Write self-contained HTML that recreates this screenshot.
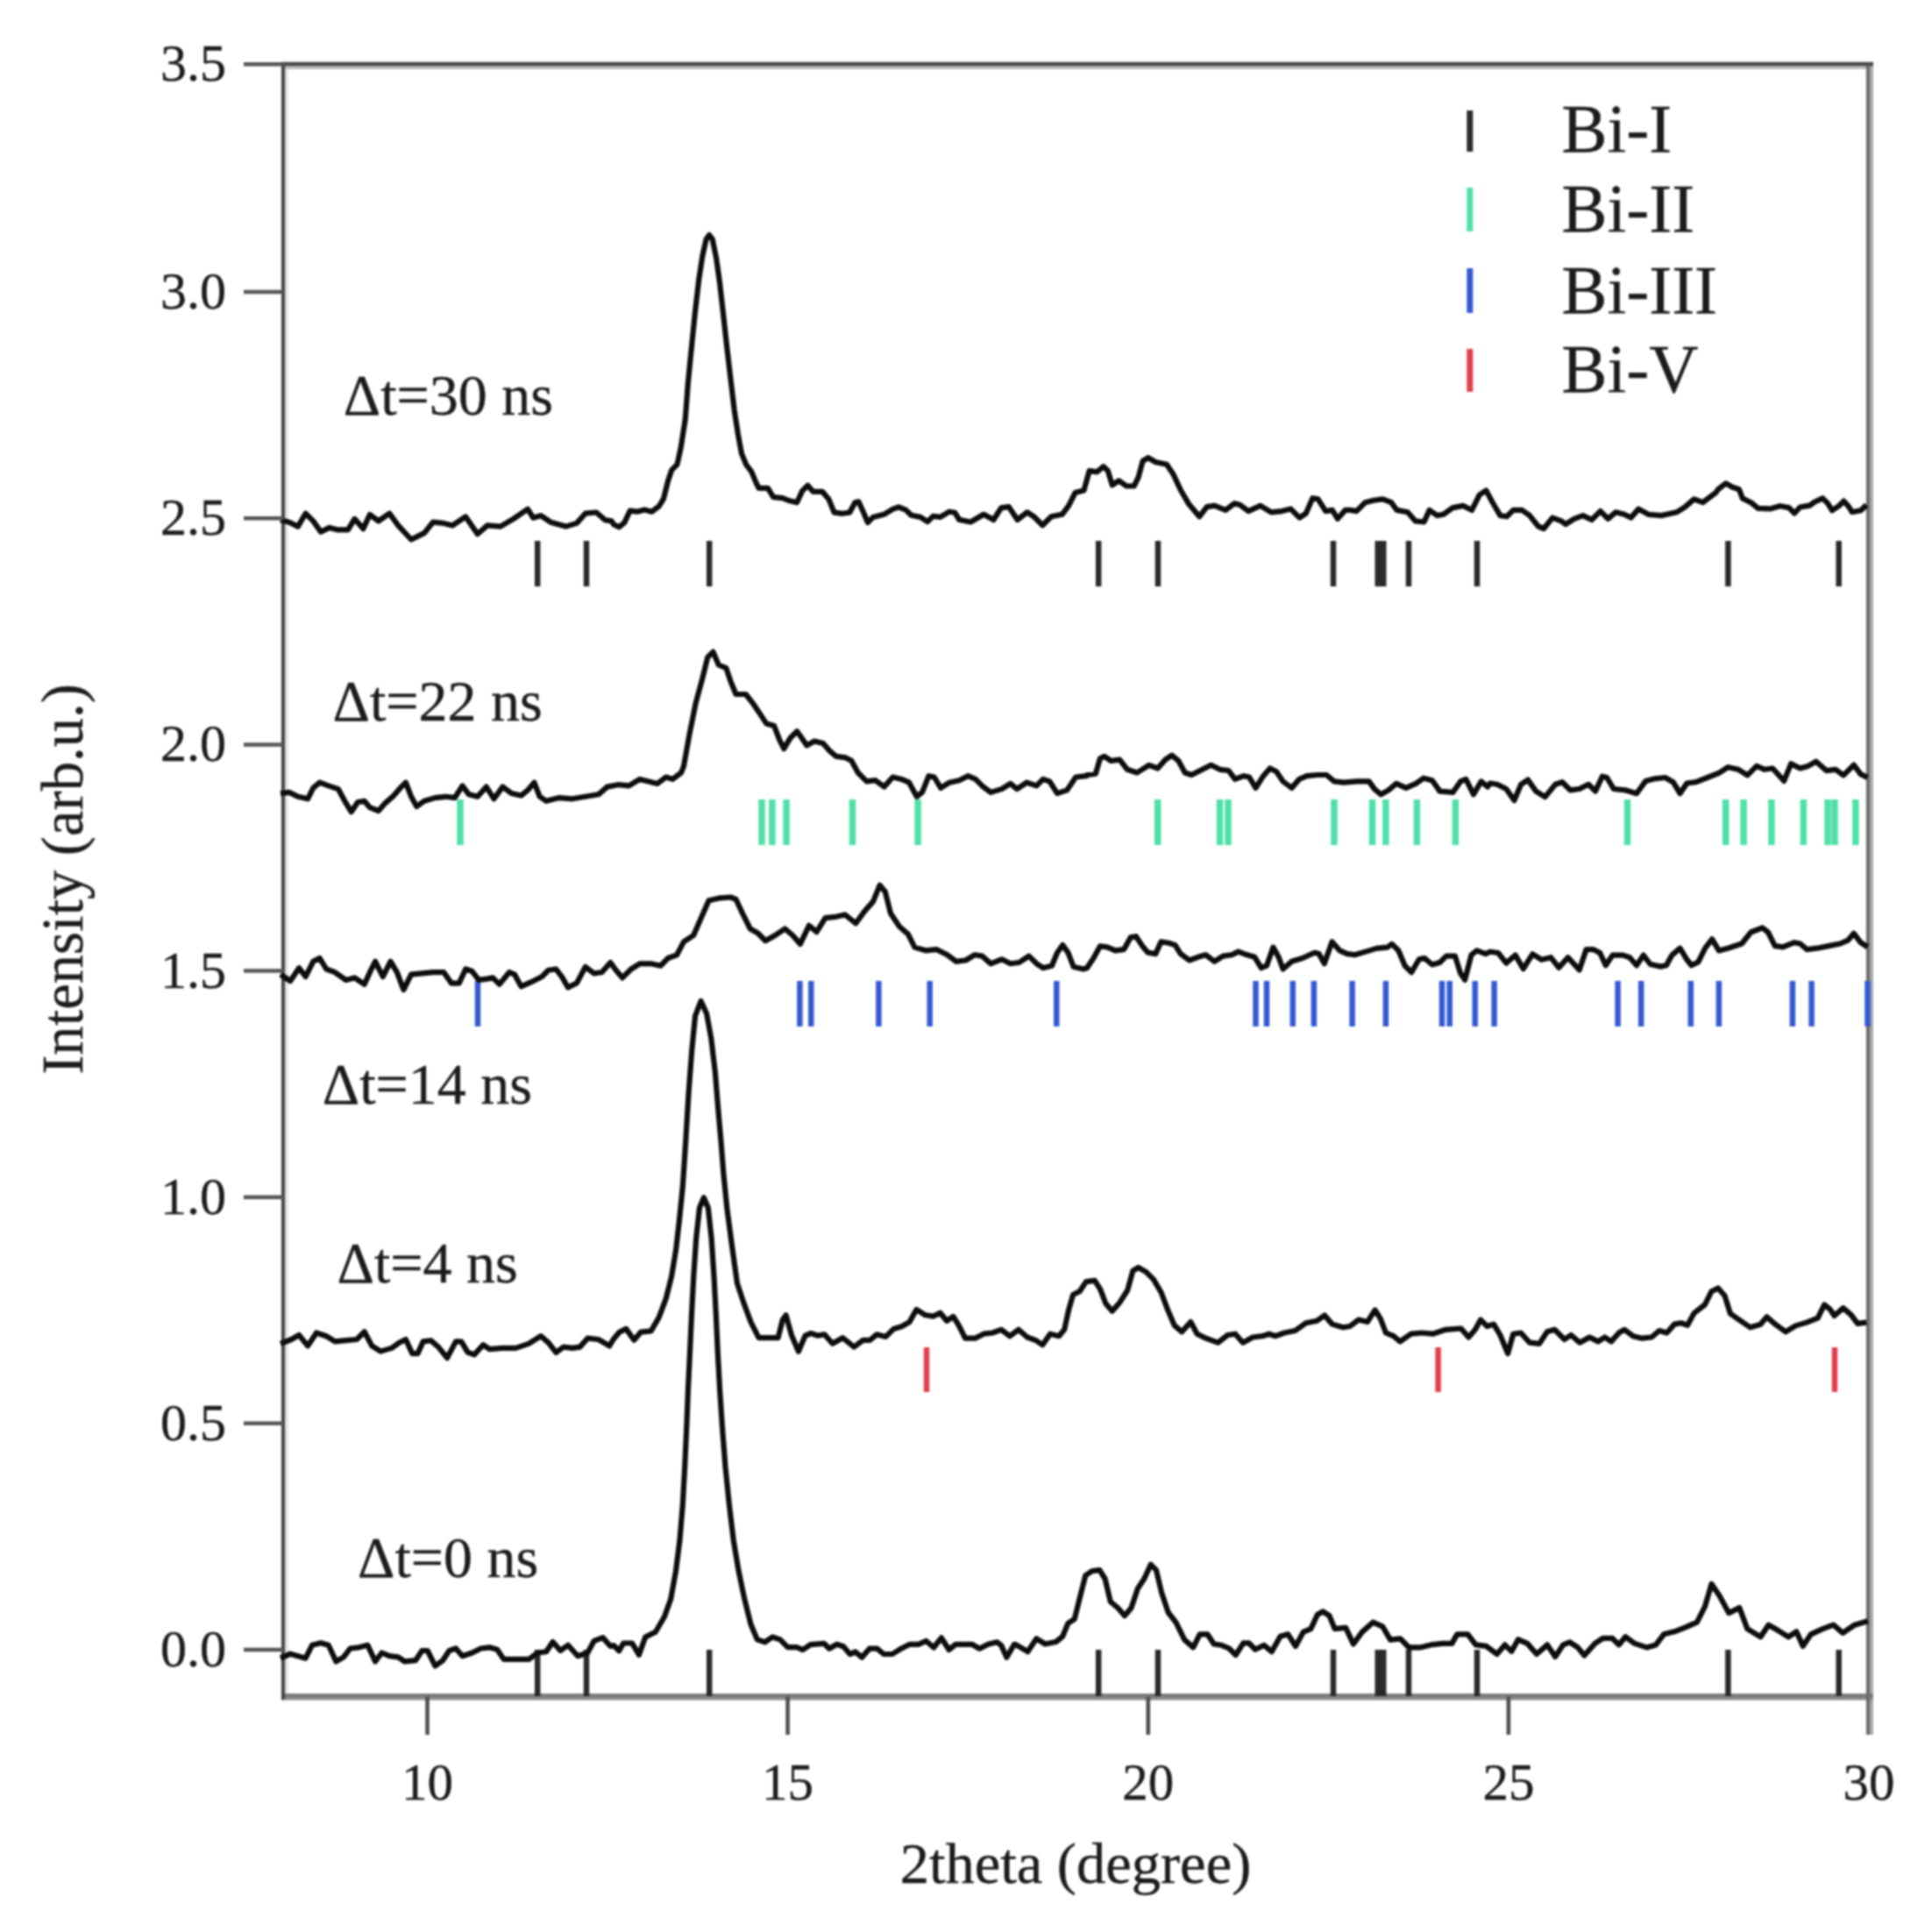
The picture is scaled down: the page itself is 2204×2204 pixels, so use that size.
<!DOCTYPE html>
<html lang="en"><head><meta charset="utf-8"><title>XRD patterns</title>
<style>html,body{margin:0;padding:0;background:#fff}body{width:2204px;height:2204px;overflow:hidden}svg{display:block;filter:blur(1.2px)}text{font-family:"Liberation Serif", "DejaVu Serif", serif;fill:#1c1c1c;stroke:#1c1c1c;stroke-width:0.4px}</style></head><body>
<svg width="2204" height="2204" viewBox="0 0 2204 2204">
<rect x="0" y="0" width="2204" height="2204" fill="#fff"/>
<line x1="327.0" y1="75.0" x2="327.0" y2="1932.0" stroke="#e6e6e6" stroke-width="4.0"/>
<line x1="325.0" y1="77.0" x2="2137.0" y2="77.0" stroke="#bcbcbc" stroke-width="4.0"/>
<line x1="2135.0" y1="71.0" x2="2135.0" y2="1979.0" stroke="#ababab" stroke-width="4.0"/>
<line x1="321.0" y1="1937.6" x2="2137.0" y2="1937.6" stroke="#8c8c8c" stroke-width="3.6"/>
<line x1="321.0" y1="1934.0" x2="2137.0" y2="1934.0" stroke="#7a7a7a" stroke-width="4.0"/>
<line x1="2131.0" y1="71.0" x2="2131.0" y2="1979.0" stroke="#6c6c6c" stroke-width="4.2"/>
<line x1="321.0" y1="73.0" x2="2137.0" y2="73.0" stroke="#4a4a4a" stroke-width="4.4"/>
<line x1="323.0" y1="71.0" x2="323.0" y2="1939.0" stroke="#484848" stroke-width="4.2"/>
<g stroke="#2a2a2a" stroke-width="6.5"><line x1="613.2" y1="617.0" x2="613.2" y2="669.0"/><line x1="669.0" y1="617.0" x2="669.0" y2="669.0"/><line x1="809.2" y1="617.0" x2="809.2" y2="669.0"/><line x1="1253.2" y1="617.0" x2="1253.2" y2="669.0"/><line x1="1321.0" y1="617.0" x2="1321.0" y2="669.0"/><line x1="1521.0" y1="617.0" x2="1521.0" y2="669.0"/><line x1="1575.0" y1="617.0" x2="1575.0" y2="669.0" stroke-width="13"/><line x1="1607.0" y1="617.0" x2="1607.0" y2="669.0"/><line x1="1685.0" y1="617.0" x2="1685.0" y2="669.0"/><line x1="1971.4" y1="617.0" x2="1971.4" y2="669.0"/><line x1="2097.7" y1="617.0" x2="2097.7" y2="669.0"/></g>
<g stroke="#2a2a2a" stroke-width="6.5"><line x1="613.2" y1="1882.0" x2="613.2" y2="1935.0"/><line x1="669.0" y1="1882.0" x2="669.0" y2="1935.0"/><line x1="809.2" y1="1882.0" x2="809.2" y2="1935.0"/><line x1="1253.2" y1="1882.0" x2="1253.2" y2="1935.0"/><line x1="1321.0" y1="1882.0" x2="1321.0" y2="1935.0"/><line x1="1521.0" y1="1882.0" x2="1521.0" y2="1935.0"/><line x1="1575.0" y1="1882.0" x2="1575.0" y2="1935.0" stroke-width="13"/><line x1="1607.0" y1="1882.0" x2="1607.0" y2="1935.0"/><line x1="1685.0" y1="1882.0" x2="1685.0" y2="1935.0"/><line x1="1971.4" y1="1882.0" x2="1971.4" y2="1935.0"/><line x1="2097.7" y1="1882.0" x2="2097.7" y2="1935.0"/></g>
<g stroke="#4fe0a8" stroke-width="7.5"><line x1="525.0" y1="912.0" x2="525.0" y2="964.0"/><line x1="869.0" y1="912.0" x2="869.0" y2="964.0"/><line x1="880.9" y1="912.0" x2="880.9" y2="964.0"/><line x1="897.1" y1="912.0" x2="897.1" y2="964.0"/><line x1="972.5" y1="912.0" x2="972.5" y2="964.0"/><line x1="1047.1" y1="912.0" x2="1047.1" y2="964.0"/><line x1="1320.7" y1="912.0" x2="1320.7" y2="964.0"/><line x1="1391.6" y1="912.0" x2="1391.6" y2="964.0"/><line x1="1401.0" y1="912.0" x2="1401.0" y2="964.0"/><line x1="1522.0" y1="912.0" x2="1522.0" y2="964.0"/><line x1="1565.5" y1="912.0" x2="1565.5" y2="964.0"/><line x1="1580.9" y1="912.0" x2="1580.9" y2="964.0"/><line x1="1616.4" y1="912.0" x2="1616.4" y2="964.0"/><line x1="1660.4" y1="912.0" x2="1660.4" y2="964.0"/><line x1="1856.5" y1="912.0" x2="1856.5" y2="964.0"/><line x1="1968.7" y1="912.0" x2="1968.7" y2="964.0"/><line x1="1989.1" y1="912.0" x2="1989.1" y2="964.0"/><line x1="2020.9" y1="912.0" x2="2020.9" y2="964.0"/><line x1="2057.4" y1="912.0" x2="2057.4" y2="964.0"/><line x1="2085.0" y1="912.0" x2="2085.0" y2="964.0"/><line x1="2093.0" y1="912.0" x2="2093.0" y2="964.0"/><line x1="2116.9" y1="912.0" x2="2116.9" y2="964.0"/></g>
<g stroke="#3659d2" stroke-width="6.5"><line x1="545.0" y1="1119.0" x2="545.0" y2="1171.0"/><line x1="912.4" y1="1119.0" x2="912.4" y2="1171.0"/><line x1="925.3" y1="1119.0" x2="925.3" y2="1171.0"/><line x1="1002.4" y1="1119.0" x2="1002.4" y2="1171.0"/><line x1="1060.7" y1="1119.0" x2="1060.7" y2="1171.0"/><line x1="1205.3" y1="1119.0" x2="1205.3" y2="1171.0"/><line x1="1432.5" y1="1119.0" x2="1432.5" y2="1171.0"/><line x1="1445.0" y1="1119.0" x2="1445.0" y2="1171.0"/><line x1="1474.8" y1="1119.0" x2="1474.8" y2="1171.0"/><line x1="1498.9" y1="1119.0" x2="1498.9" y2="1171.0"/><line x1="1542.6" y1="1119.0" x2="1542.6" y2="1171.0"/><line x1="1580.9" y1="1119.0" x2="1580.9" y2="1171.0"/><line x1="1645.0" y1="1119.0" x2="1645.0" y2="1171.0"/><line x1="1653.7" y1="1119.0" x2="1653.7" y2="1171.0"/><line x1="1682.7" y1="1119.0" x2="1682.7" y2="1171.0"/><line x1="1704.6" y1="1119.0" x2="1704.6" y2="1171.0"/><line x1="1845.6" y1="1119.0" x2="1845.6" y2="1171.0"/><line x1="1872.2" y1="1119.0" x2="1872.2" y2="1171.0"/><line x1="1928.8" y1="1119.0" x2="1928.8" y2="1171.0"/><line x1="1960.9" y1="1119.0" x2="1960.9" y2="1171.0"/><line x1="2044.9" y1="1119.0" x2="2044.9" y2="1171.0"/><line x1="2066.6" y1="1119.0" x2="2066.6" y2="1171.0"/><line x1="2130.5" y1="1119.0" x2="2130.5" y2="1171.0"/></g>
<g stroke="#e0404c" stroke-width="6.5"><line x1="1057.0" y1="1537.0" x2="1057.0" y2="1588.0"/><line x1="1640.6" y1="1537.0" x2="1640.6" y2="1588.0"/><line x1="2093.0" y1="1537.0" x2="2093.0" y2="1588.0"/></g>
<polyline points="320.0,593.2 329.9,595.7 339.9,600.6 348.6,585.7 357.3,594.4 366.0,606.8 375.9,601.9 384.6,604.3 397.0,604.3 404.5,591.9 414.4,603.1 421.9,587.0 431.8,594.4 444.2,585.7 454.2,599.4 469.1,615.5 484.0,608.1 493.9,595.7 506.3,596.9 516.3,599.4 531.2,589.4 544.8,609.3 556.0,599.4 570.9,600.6 585.8,591.9 602.0,580.7 608.2,590.7 616.9,588.2 628.1,595.7 645.5,600.6 657.9,596.9 667.8,585.7 680.2,584.5 690.2,593.2 697.6,594.4 700.0,598.2 706.2,601.3 712.4,596.1 718.6,582.7 726.9,583.7 735.2,581.6 743.5,583.7 751.8,577.5 756.9,569.2 762.1,548.5 766.3,536.1 772.5,529.9 776.6,511.2 781.8,478.1 784.9,436.7 789.0,395.3 793.2,353.9 797.3,318.7 801.4,291.8 805.6,273.1 809.1,268.0 812.8,273.1 817.0,293.8 821.1,322.8 825.3,360.1 829.4,397.3 833.5,432.5 837.7,467.7 841.8,494.7 846.0,517.4 851.1,529.9 857.3,538.1 862.5,550.6 865.6,556.8 876.0,556.8 882.2,567.1 892.5,568.2 900.8,571.3 909.1,573.3 915.3,559.9 921.5,553.7 927.7,560.9 938.1,560.9 945.3,569.2 951.6,584.7 960.9,585.8 969.2,584.7 975.4,573.3 979.5,572.3 984.7,583.7 989.9,596.1 996.1,589.9 1008.5,586.8 1018.8,580.6 1025.1,578.5 1033.3,581.6 1039.5,587.8 1049.9,589.9 1058.2,595.1 1064.4,588.9 1072.7,589.9 1083.0,583.7 1089.2,584.7 1094.4,593.0 1094.9,593.0 1107.3,595.5 1122.2,586.8 1133.4,593.0 1142.1,579.4 1150.8,578.1 1160.7,593.0 1171.9,584.3 1179.4,589.3 1189.3,599.3 1199.3,589.3 1211.7,586.8 1219.1,576.9 1226.6,562.0 1236.5,559.5 1242.7,537.1 1251.4,538.4 1258.9,532.2 1263.9,537.1 1268.8,553.3 1276.3,548.3 1285.0,554.5 1293.7,554.5 1298.6,544.6 1303.6,526.0 1309.8,522.2 1318.5,527.2 1330.9,529.7 1338.4,540.9 1347.1,559.5 1355.8,574.4 1368.2,589.3 1376.9,578.1 1385.6,576.9 1398.0,581.9 1408.0,574.4 1414.2,575.7 1424.1,583.1 1437.8,576.9 1450.2,584.3 1462.6,583.1 1472.5,580.6 1482.5,590.6 1489.9,585.6 1497.4,568.2 1503.6,569.4 1512.3,583.1 1519.8,581.9 1526.0,591.8 1534.7,581.9 1540.0,581.9 1547.5,583.1 1557.4,573.2 1567.3,570.7 1577.3,569.4 1587.2,573.2 1593.4,581.9 1605.8,584.3 1614.5,594.3 1624.5,595.5 1630.7,581.9 1639.4,588.1 1646.8,586.8 1656.8,579.4 1669.2,576.9 1679.1,581.9 1687.8,564.5 1695.3,559.5 1702.7,573.2 1711.4,588.1 1718.9,589.3 1726.3,581.9 1736.3,581.9 1745.0,588.1 1754.9,600.5 1761.1,603.0 1771.1,590.6 1781.0,594.3 1786.0,598.0 1795.9,591.8 1805.8,588.1 1815.8,593.0 1825.7,583.1 1834.4,591.8 1843.1,584.3 1853.0,586.8 1860.5,590.6 1869.2,580.6 1880.4,586.8 1895.3,588.1 1912.7,584.3 1922.6,578.1 1932.5,569.4 1942.5,573.2 1957.4,562.0 1960.0,558.3 1968.8,551.4 1976.4,555.8 1984.0,558.3 1987.8,568.4 1997.9,573.5 2005.5,579.8 2019.4,580.4 2030.7,577.2 2040.8,579.1 2047.1,585.5 2053.5,578.5 2064.8,576.6 2069.9,572.8 2079.3,568.4 2085.0,574.1 2090.1,582.3 2097.7,577.2 2103.3,571.6 2108.4,577.2 2112.8,584.2 2122.9,582.3 2129.2,576.0" fill="none" stroke="#0d0d0d" stroke-width="6.2" stroke-linejoin="round" stroke-linecap="butt"/>
<polyline points="320.0,905.1 329.9,903.9 339.9,908.8 351.1,911.3 357.3,898.9 364.7,892.7 374.7,896.4 385.8,900.1 393.3,913.8 400.7,926.2 408.2,915.0 415.7,913.8 421.9,921.2 431.8,925.0 439.3,916.3 449.2,907.6 456.6,898.9 462.9,892.7 469.1,908.8 475.3,920.0 484.0,913.8 496.4,910.1 508.8,908.8 518.8,910.1 527.5,896.4 534.9,906.3 544.8,908.8 554.8,897.6 563.5,911.3 573.4,897.6 583.4,905.1 594.5,907.6 602.0,901.4 609.4,892.7 615.7,908.8 623.1,913.8 638.0,910.1 652.9,911.3 667.8,908.8 682.7,906.3 692.7,897.6 705.1,895.2 717.5,896.4 729.9,888.9 739.9,891.4 749.8,893.9 759.8,886.5 767.2,888.9 777.1,881.5 780.0,874.0 786.2,839.3 793.7,802.0 801.1,774.7 807.3,749.8 813.5,743.6 819.8,758.5 828.4,762.2 833.4,777.1 839.6,792.0 850.8,792.0 859.5,803.2 867.0,814.4 874.4,825.6 883.1,828.1 889.3,844.2 894.3,854.2 901.7,841.7 909.2,834.3 915.4,843.0 920.4,850.4 929.1,845.5 939.0,848.0 946.5,856.6 953.9,862.9 963.9,864.1 971.3,867.8 978.8,881.5 988.7,891.4 998.6,890.2 1008.6,897.6 1018.5,886.5 1028.4,888.9 1037.1,892.7 1045.8,908.8 1052.0,903.9 1059.5,885.2 1065.7,886.5 1073.2,898.9 1083.1,892.7 1094.3,890.2 1104.2,885.2 1112.9,888.9 1121.6,897.6 1130.3,903.9 1142.7,900.1 1152.7,893.9 1160.1,900.1 1171.3,892.7 1182.5,896.4 1189.9,888.9 1197.4,891.4 1206.1,905.1 1217.3,901.4 1227.2,886.5 1239.6,885.2 1240.0,884.0 1249.9,882.7 1254.9,865.3 1259.9,862.9 1267.3,867.8 1277.3,866.6 1286.0,877.8 1297.1,881.5 1310.8,872.8 1320.7,876.5 1329.4,866.6 1336.9,861.6 1344.3,867.8 1351.8,881.5 1359.3,884.0 1369.2,879.0 1381.6,872.8 1391.6,877.8 1401.5,879.0 1408.9,888.9 1418.9,885.2 1425.1,886.5 1432.5,898.9 1441.2,885.2 1448.7,876.5 1456.1,880.2 1463.6,891.4 1473.5,898.9 1482.2,888.9 1490.9,885.2 1503.4,884.0 1513.3,884.0 1522.0,891.4 1533.2,892.7 1548.1,891.4 1561.7,891.4 1568.0,900.1 1575.4,906.3 1584.1,901.4 1592.8,893.9 1604.0,898.9 1615.2,893.9 1623.9,887.7 1633.8,890.2 1642.5,902.6 1657.4,903.9 1666.1,891.4 1672.3,888.9 1681.0,906.3 1689.7,891.4 1697.1,897.6 1700.0,893.5 1707.8,894.8 1718.3,900.0 1727.4,913.1 1735.2,894.8 1743.0,889.6 1752.2,902.6 1762.6,909.1 1774.4,894.8 1782.2,892.2 1791.3,901.3 1801.7,900.0 1812.2,894.8 1820.0,902.6 1827.8,885.7 1833.1,887.0 1840.9,900.0 1853.9,901.3 1867.0,905.2 1877.4,890.9 1887.8,888.3 1899.6,887.0 1908.7,892.2 1916.5,905.2 1924.4,893.5 1934.8,892.2 1947.8,887.0 1960.9,881.8 1971.3,875.2 1983.1,877.8 1993.5,884.4 2003.9,873.9 2013.1,877.8 2022.2,876.5 2035.2,890.9 2043.1,871.3 2053.5,876.5 2062.6,873.9 2071.8,868.7 2083.5,879.1 2093.9,877.8 2103.1,884.4 2114.8,872.6 2122.6,883.1 2130.5,887.0" fill="none" stroke="#0d0d0d" stroke-width="6.2" stroke-linejoin="round" stroke-linecap="butt"/>
<polyline points="320.0,1111.7 331.2,1119.1 341.1,1104.2 348.6,1114.2 357.3,1096.8 364.7,1093.0 372.2,1105.5 382.1,1109.2 394.5,1117.9 404.5,1115.4 415.7,1122.9 421.9,1109.2 428.1,1096.8 436.8,1114.2 445.5,1096.8 452.9,1109.2 460.4,1129.1 469.1,1111.7 481.5,1110.4 493.9,1109.2 506.3,1109.2 515.0,1121.6 523.7,1121.6 531.2,1105.5 538.6,1108.0 546.1,1117.9 556.0,1116.6 562.2,1115.4 569.7,1122.9 580.9,1109.2 587.1,1111.7 594.5,1125.3 605.7,1120.4 618.1,1114.2 625.6,1106.7 634.3,1105.5 641.7,1115.4 648.0,1126.6 657.9,1121.6 667.8,1103.0 677.8,1110.4 686.5,1109.2 696.4,1098.0 702.6,1106.7 710.1,1115.4 720.0,1105.5 729.9,1099.3 742.4,1099.3 753.5,1101.7 762.2,1093.0 772.2,1089.3 780.0,1074.4 791.2,1067.0 799.9,1047.1 808.6,1027.2 819.8,1024.7 833.4,1023.5 839.6,1026.0 847.1,1042.1 855.8,1059.5 864.5,1064.5 873.2,1073.2 884.3,1067.0 895.5,1059.5 904.2,1067.0 912.9,1076.9 922.9,1055.8 931.6,1063.2 941.5,1047.1 953.9,1045.8 963.9,1043.4 976.3,1053.3 986.2,1039.6 996.1,1028.4 1003.6,1009.8 1009.8,1017.3 1016.0,1042.1 1026.0,1057.0 1035.9,1065.7 1043.4,1080.6 1055.8,1084.3 1068.2,1083.1 1080.6,1089.3 1090.6,1096.8 1101.7,1095.5 1111.7,1089.3 1120.4,1090.6 1130.3,1099.3 1142.7,1094.3 1152.7,1099.3 1162.6,1098.0 1173.8,1090.6 1182.5,1099.3 1189.9,1104.2 1199.9,1101.7 1206.1,1086.8 1212.3,1078.1 1218.5,1086.8 1224.7,1103.0 1235.9,1105.5 1240.0,1104.2 1247.5,1093.0 1254.9,1079.4 1263.6,1080.6 1272.3,1084.3 1282.2,1083.1 1289.7,1069.4 1295.9,1068.2 1303.4,1079.4 1309.6,1086.8 1318.3,1088.1 1324.5,1074.4 1333.2,1075.7 1340.6,1078.1 1346.8,1088.1 1356.8,1095.5 1366.7,1091.8 1375.4,1089.3 1385.3,1096.8 1395.3,1090.6 1405.2,1089.3 1412.7,1085.6 1422.6,1089.3 1431.3,1091.8 1438.8,1104.2 1445.0,1101.7 1452.4,1080.6 1458.6,1091.8 1463.6,1105.5 1473.5,1096.8 1486.0,1093.0 1499.6,1086.8 1504.6,1088.1 1510.8,1099.3 1519.5,1074.4 1528.2,1084.3 1536.9,1088.1 1545.6,1089.3 1558.0,1085.6 1570.4,1081.9 1582.9,1080.6 1587.8,1076.9 1595.3,1084.3 1602.7,1101.7 1610.2,1109.2 1618.9,1094.3 1625.1,1093.0 1633.8,1100.5 1642.5,1098.0 1649.9,1090.6 1659.9,1090.6 1666.1,1110.4 1671.1,1117.9 1678.5,1089.3 1684.7,1084.3 1694.7,1088.1 1700.0,1085.7 1709.1,1087.0 1718.3,1098.7 1728.7,1089.6 1737.8,1105.2 1748.3,1088.3 1758.7,1094.8 1769.1,1092.2 1778.3,1103.9 1788.7,1092.2 1801.7,1106.5 1809.6,1083.1 1817.4,1083.1 1825.2,1087.0 1831.8,1101.3 1839.6,1089.6 1851.3,1089.6 1859.1,1092.2 1867.0,1101.3 1874.8,1089.6 1882.6,1100.0 1894.4,1102.6 1900.9,1101.3 1907.4,1089.6 1916.5,1081.7 1924.4,1094.8 1929.6,1101.3 1937.4,1097.4 1945.2,1081.7 1953.1,1071.3 1960.9,1084.4 1971.3,1081.7 1987.0,1076.5 1997.4,1063.5 2010.5,1058.3 2017.0,1063.5 2024.8,1079.1 2033.9,1080.4 2047.0,1075.2 2053.5,1076.5 2061.3,1083.1 2073.1,1081.7 2086.1,1079.1 2099.2,1076.5 2108.3,1072.6 2114.8,1064.8 2122.6,1075.2 2130.5,1080.4" fill="none" stroke="#0d0d0d" stroke-width="6.2" stroke-linejoin="round" stroke-linecap="butt"/>
<polyline points="320.0,1532.9 332.4,1528.0 341.1,1523.0 351.1,1535.4 361.0,1520.5 372.2,1524.2 382.1,1530.4 394.5,1529.2 407.0,1528.0 415.7,1519.3 424.3,1535.4 434.3,1541.6 446.7,1537.9 455.4,1531.7 462.9,1528.0 470.3,1544.1 476.5,1544.1 482.7,1530.4 491.4,1529.2 500.1,1536.6 510.1,1549.1 520.0,1530.4 526.2,1530.4 533.7,1542.9 541.1,1545.3 551.1,1534.2 558.5,1539.1 573.4,1537.9 588.3,1537.9 603.2,1532.9 616.9,1524.2 625.6,1531.7 634.3,1542.9 643.0,1536.6 652.9,1537.9 661.6,1536.6 670.3,1526.7 682.7,1528.0 695.2,1535.4 700.0,1527.5 706.5,1519.7 714.2,1515.9 723.3,1528.8 731.0,1519.7 742.7,1518.4 751.7,1502.9 759.5,1482.2 766.0,1456.4 771.2,1425.3 775.0,1391.7 778.9,1352.9 782.3,1301.1 785.4,1249.4 789.3,1197.6 793.1,1158.8 799.6,1142.0 806.1,1156.2 811.3,1184.7 815.9,1223.5 819.0,1262.3 822.4,1301.1 825.5,1339.9 829.4,1378.7 834.5,1417.5 841.0,1464.1 848.8,1487.4 856.5,1508.1 865.6,1526.2 875.9,1526.2 887.6,1526.2 892.8,1505.5 896.6,1500.3 903.1,1523.6 910.9,1541.7 918.6,1523.6 925.1,1521.0 932.9,1523.6 940.6,1522.3 949.7,1532.7 961.3,1526.2 974.3,1536.6 984.6,1528.8 992.4,1528.8 1000.1,1522.3 1010.5,1524.9 1019.5,1515.9 1028.6,1513.3 1037.6,1508.1 1045.4,1493.9 1055.8,1500.3 1064.8,1501.6 1072.6,1497.7 1080.0,1506.8 1087.5,1501.9 1093.7,1511.8 1101.1,1526.7 1112.3,1526.7 1122.2,1521.7 1132.2,1520.5 1142.1,1516.8 1152.0,1524.2 1162.0,1516.8 1171.9,1525.5 1181.9,1529.2 1189.3,1534.2 1198.0,1521.7 1208.0,1524.2 1214.2,1516.8 1219.1,1494.4 1224.1,1477.0 1231.6,1473.3 1239.0,1462.1 1248.9,1460.9 1255.2,1470.8 1261.4,1487.0 1268.8,1495.7 1277.5,1485.7 1286.2,1472.0 1292.4,1449.7 1298.6,1446.0 1307.3,1450.9 1316.0,1459.6 1324.7,1474.5 1332.2,1494.4 1339.6,1511.8 1348.3,1519.3 1358.3,1508.1 1365.7,1521.7 1375.7,1526.7 1389.3,1531.7 1400.5,1523.0 1409.2,1521.7 1417.9,1531.7 1429.1,1525.5 1440.2,1524.2 1447.7,1521.7 1455.2,1524.2 1465.1,1520.5 1477.5,1518.0 1489.9,1509.3 1502.4,1506.8 1511.1,1500.6 1519.8,1510.6 1532.2,1514.3 1540.0,1513.0 1549.9,1505.6 1559.9,1508.1 1568.6,1494.4 1574.8,1504.3 1581.0,1520.5 1589.7,1524.2 1597.1,1530.4 1609.6,1521.7 1622.0,1520.5 1634.4,1521.7 1649.3,1516.8 1666.7,1515.5 1675.4,1525.5 1682.9,1516.8 1689.1,1505.6 1696.5,1513.0 1704.0,1510.6 1711.4,1523.0 1720.1,1544.1 1726.3,1521.7 1735.0,1520.5 1745.0,1531.7 1756.1,1532.9 1764.8,1519.3 1773.5,1516.8 1784.7,1528.0 1792.2,1523.0 1802.1,1531.7 1813.3,1525.5 1823.2,1530.4 1830.7,1525.5 1838.1,1530.4 1846.8,1520.5 1853.0,1516.8 1863.0,1524.2 1872.9,1526.7 1884.1,1525.5 1892.8,1518.0 1901.5,1520.5 1910.2,1510.6 1917.6,1509.3 1925.1,1511.8 1932.5,1498.1 1945.0,1488.2 1952.4,1473.3 1960.0,1469.5 1967.6,1478.3 1973.9,1498.5 1982.7,1504.8 1996.6,1514.3 2008.0,1511.1 2015.6,1502.3 2025.7,1511.1 2037.0,1519.3 2048.4,1512.4 2061.0,1508.6 2073.7,1503.6 2081.2,1488.4 2087.6,1493.5 2092.6,1501.0 2102.7,1492.2 2111.6,1499.8 2119.1,1509.9 2129.2,1508.6" fill="none" stroke="#0d0d0d" stroke-width="6.2" stroke-linejoin="round" stroke-linecap="butt"/>
<polyline points="320.0,1891.7 331.2,1886.7 339.9,1889.2 348.6,1891.7 356.0,1876.8 366.0,1874.3 374.7,1876.8 383.4,1895.4 392.0,1890.4 399.5,1880.5 409.4,1879.3 419.4,1876.8 428.1,1895.4 435.5,1885.5 444.2,1889.2 454.2,1890.4 461.6,1895.4 474.0,1894.2 481.5,1883.0 487.7,1883.0 496.4,1900.4 505.1,1894.2 512.5,1883.0 520.0,1880.5 527.5,1889.2 538.6,1885.5 548.6,1880.5 558.5,1879.3 567.2,1881.7 574.7,1892.9 588.3,1892.9 603.2,1892.9 613.2,1885.5 623.1,1884.2 630.6,1873.0 639.3,1883.0 648.0,1876.8 659.1,1889.2 670.3,1885.5 677.8,1871.8 687.7,1868.1 696.4,1878.0 700.0,1877.0 706.2,1883.2 711.2,1874.5 721.1,1874.5 729.0,1887.8 736.2,1867.5 747.8,1861.7 758.0,1844.3 765.2,1824.1 771.0,1792.2 775.4,1757.4 778.8,1716.8 781.2,1673.3 783.2,1629.9 784.9,1586.4 787.0,1542.9 789.0,1499.4 791.3,1455.9 794.2,1412.5 798.0,1377.7 802.9,1366.1 807.8,1377.7 811.6,1412.5 814.5,1455.9 816.8,1499.4 818.8,1542.9 821.2,1586.4 824.1,1629.9 827.5,1673.3 831.9,1716.8 836.8,1757.4 842.6,1792.2 849.3,1824.1 856.5,1853.0 863.8,1870.4 872.5,1873.3 881.2,1867.5 889.9,1870.4 898.6,1879.1 908.7,1879.1 915.9,1882.0 924.6,1876.2 940.0,1874.8 946.0,1880.7 954.7,1875.8 962.1,1878.3 969.6,1887.0 975.8,1884.5 983.2,1890.7 991.9,1880.7 1000.6,1880.7 1008.1,1887.0 1018.0,1887.0 1028.0,1880.7 1037.9,1875.8 1047.8,1875.8 1056.5,1872.0 1065.2,1879.5 1073.9,1868.3 1082.6,1882.0 1090.1,1875.8 1100.0,1875.8 1108.7,1875.8 1117.4,1880.7 1127.3,1875.8 1137.3,1873.3 1142.2,1877.0 1148.4,1890.7 1157.1,1875.8 1160.0,1876.8 1172.4,1884.2 1182.4,1869.3 1192.3,1875.5 1204.7,1873.0 1212.2,1866.8 1218.4,1851.9 1225.8,1847.0 1232.0,1822.1 1238.3,1797.3 1245.7,1792.3 1254.4,1791.1 1260.6,1801.0 1266.8,1827.1 1275.5,1834.5 1283.0,1843.2 1290.4,1834.5 1297.9,1812.2 1305.3,1801.0 1312.8,1784.8 1319.0,1791.1 1325.2,1817.1 1332.7,1839.5 1341.4,1850.7 1351.3,1870.6 1361.2,1879.3 1368.7,1864.3 1377.4,1864.3 1384.8,1875.5 1393.5,1876.8 1402.2,1880.5 1409.7,1888.0 1418.4,1874.3 1424.6,1874.3 1432.0,1881.7 1442.0,1876.8 1450.7,1884.2 1460.6,1866.8 1469.3,1864.3 1478.0,1878.0 1486.7,1861.9 1495.4,1858.1 1502.9,1842.0 1509.1,1838.3 1516.5,1843.2 1522.7,1858.1 1535.2,1856.9 1543.9,1875.5 1553.8,1861.9 1566.2,1850.7 1577.4,1855.7 1586.1,1870.6 1597.3,1869.3 1607.2,1879.3 1619.6,1879.3 1620.0,1879.4 1632.1,1876.4 1645.7,1874.9 1656.3,1874.9 1662.3,1864.3 1674.4,1864.3 1683.5,1876.4 1695.6,1877.9 1707.7,1887.0 1716.7,1876.4 1724.3,1883.9 1731.9,1870.3 1742.4,1874.9 1753.0,1887.0 1765.1,1876.4 1774.2,1890.0 1783.2,1876.4 1790.8,1873.4 1799.9,1879.4 1807.4,1888.5 1819.5,1874.9 1828.6,1868.8 1839.2,1868.8 1846.7,1876.4 1854.3,1867.3 1864.9,1874.9 1878.5,1879.4 1889.0,1876.4 1898.1,1864.3 1910.2,1861.3 1922.3,1856.7 1935.9,1850.7 1945.0,1832.6 1952.5,1806.9 1961.6,1820.5 1972.2,1840.1 1984.3,1834.1 1993.3,1858.2 2008.5,1867.3 2017.5,1853.7 2028.1,1859.8 2040.2,1867.3 2049.3,1861.3 2056.8,1877.9 2065.9,1864.3 2079.5,1858.2 2091.6,1853.7 2102.2,1862.8 2115.8,1853.7 2130.9,1849.2" fill="none" stroke="#0d0d0d" stroke-width="6.2" stroke-linejoin="round" stroke-linecap="butt"/>
<g stroke="#555" stroke-width="4.5"><line x1="278" y1="1882.0" x2="323.5" y2="1882.0"/><line x1="278" y1="1623.8" x2="323.5" y2="1623.8"/><line x1="278" y1="1365.7" x2="323.5" y2="1365.7"/><line x1="278" y1="1107.6" x2="323.5" y2="1107.6"/><line x1="278" y1="849.4" x2="323.5" y2="849.4"/><line x1="278" y1="591.2" x2="323.5" y2="591.2"/><line x1="278" y1="333.1" x2="323.5" y2="333.1"/><line x1="278" y1="73.2" x2="323.5" y2="73.2"/></g>
<g font-size="60" text-anchor="end"><text x="258" y="1901.0">0.0</text><text x="258" y="1642.8">0.5</text><text x="258" y="1384.7">1.0</text><text x="258" y="1126.6">1.5</text><text x="258" y="868.4">2.0</text><text x="258" y="610.2">2.5</text><text x="258" y="352.1">3.0</text><text x="258" y="92.2">3.5</text></g>
<g stroke="#4e4e4e" stroke-width="4.6"><line x1="487.5" y1="1935.5" x2="487.5" y2="1979"/><line x1="898.6" y1="1935.5" x2="898.6" y2="1979"/><line x1="1309.8" y1="1935.5" x2="1309.8" y2="1979"/><line x1="1720.9" y1="1935.5" x2="1720.9" y2="1979"/></g>
<g font-size="59" text-anchor="middle"><text x="487.5" y="2053">10</text><text x="898.6" y="2053">15</text><text x="1309.8" y="2053">20</text><text x="1720.9" y="2053">25</text><text x="2132.1" y="2053">30</text></g>
<text x="1227" y="2148" font-size="66.5" text-anchor="middle">2theta (degree)</text>
<text transform="translate(94,1003) rotate(-90)" font-size="66.6" text-anchor="middle">Intensity (arb.u.)</text>
<g font-size="66"><text x="391.8" y="472.5">Δt=30 ns</text><text x="379.6" y="822.0">Δt=22 ns</text><text x="367.7" y="1258.5">Δt=14 ns</text><text x="384.5" y="1462.5">Δt=4 ns</text><text x="408.0" y="1799.0">Δt=0 ns</text></g>
<line x1="1676.8" y1="126" x2="1676.8" y2="173" stroke="#2a2a2a" stroke-width="7"/>
<text x="1781.5" y="173.0" font-size="78">Bi-I</text>
<line x1="1676.8" y1="214" x2="1676.8" y2="264" stroke="#4fe0a8" stroke-width="7"/>
<text x="1781.5" y="264.4" font-size="78">Bi-II</text>
<line x1="1676.8" y1="306" x2="1676.8" y2="357" stroke="#3659d2" stroke-width="7"/>
<text x="1781.5" y="356.7" font-size="78">Bi-III</text>
<line x1="1676.8" y1="398" x2="1676.8" y2="447" stroke="#e0404c" stroke-width="7"/>
<text x="1781.5" y="447.3" font-size="78">Bi-V</text>
</svg></body></html>
